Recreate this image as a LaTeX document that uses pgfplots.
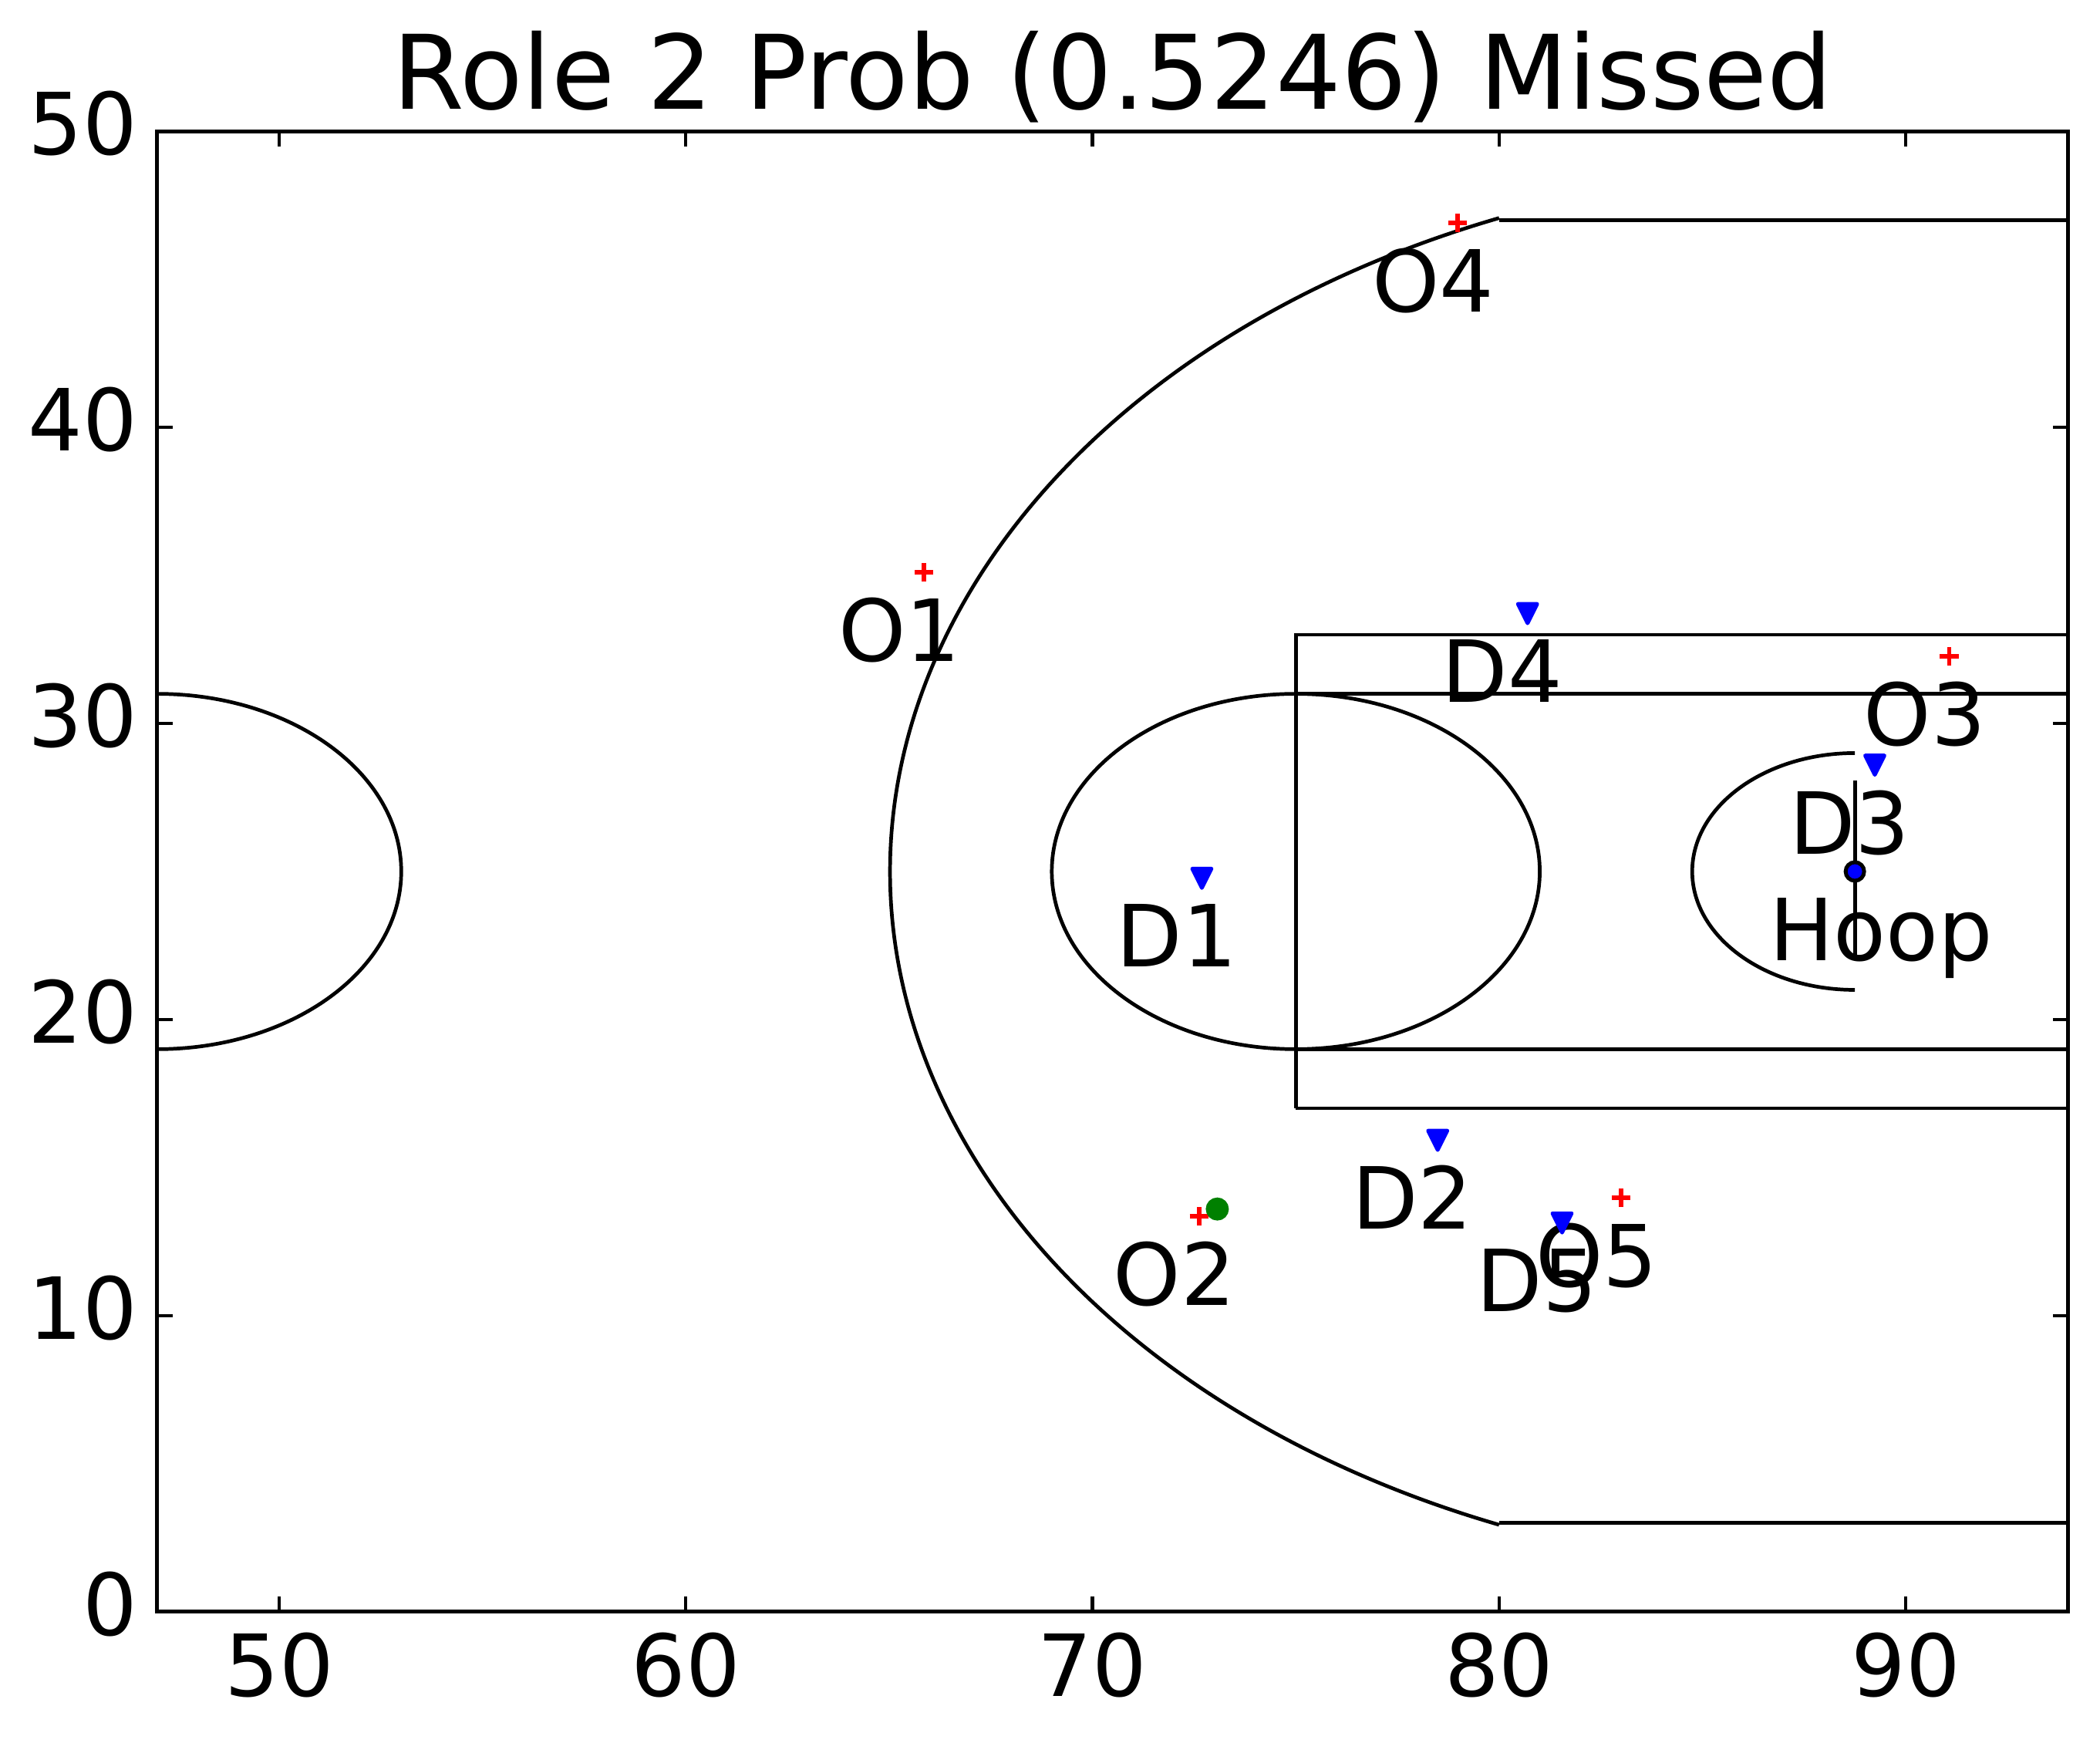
\documentclass[border=0pt]{standalone}
\usepackage{fontspec}
\setmainfont{DejaVu Sans}
\usepackage{pgfplots}
\pgfplotsset{compat=1.18}
\pgfdeclareplotmark{tridown}{%
  \pgfpathmoveto{\pgfqpoint{-\pgfplotmarksize}{\pgfplotmarksize}}%
  \pgfpathlineto{\pgfqpoint{\pgfplotmarksize}{\pgfplotmarksize}}%
  \pgfpathlineto{\pgfqpoint{0pt}{-\pgfplotmarksize}}%
  \pgfpathclose
  \pgfusepathqfillstroke}
\definecolor{mplgreen}{rgb}{0,0.5,0}

\pgfplotstableread{
x y
65.86 35.10
72.62 13.35
91.07 32.26
78.98 46.91
83.00 13.98
}\offense
\pgfplotstableread{
x y
72.69 24.77
78.49 15.92
89.24 28.59
80.70 33.71
81.55 13.13
}\defense

\begin{document}
\begin{tikzpicture}
\path[use as bounding box] (-29.35pt,-24.4pt) rectangle (362.6pt,300.8pt);
\begin{axis}[
  at={(0,0)}, anchor=south west,
  width=356.7pt, height=276.3pt, scale only axis,
  xmin=47, xmax=94, ymin=0, ymax=50,
  xtick={50,60,70,80,90}, ytick={0,10,20,30,40,50},
  tick align=inside, major tick length=2.9pt,
  tick style={black, line width=0.6pt},
  axis line style={line width=0.72pt},
  ticklabel style={font=\fontsize{16}{19}\selectfont},
  /pgf/number format/assume math mode=true,
  xticklabel style={inner sep=0pt, yshift=-3.7pt},
  yticklabel style={inner sep=0pt, xshift=-3.5pt, yshift=1.4pt},
  title={Role 2 Prob (0.5246) Missed},
  title style={font=\fontsize{19.2}{23}\selectfont, at={(0.5,1)}, anchor=base, yshift=-1.9pt, inner sep=0pt},
  clip=true,
]
% hoop
\addplot[only marks, mark=*, mark size=1.73pt, mark options={fill=blue, draw=black, line width=0.72pt}] coordinates {(88.75,25)};
% court
\begin{scope}[line width=0.68pt, black]
\draw (47,25) ellipse[x radius=45.54pt, y radius=33.16pt];
\draw (75,25) ellipse[x radius=45.54pt, y radius=33.16pt];
\draw (88.75,29) arc[start angle=90, end angle=270, x radius=30.36pt, y radius=22.10pt];
\draw (80,47.07) arc[start angle=111.69, end angle=248.31, x radius=180.25pt, y radius=131.24pt];
\end{scope}
\addplot[black, line width=0.68pt, mark=none] coordinates {(80,47) (94,47)};
\addplot[black, line width=0.68pt, mark=none] coordinates {(80,3) (94,3)};
\addplot[black, line width=0.68pt, mark=none] coordinates {(75,17) (94,17) (94,33) (75,33) (75,17)};
\addplot[black, line width=0.68pt, mark=none] coordinates {(75,19) (94,19)};
\addplot[black, line width=0.68pt, mark=none] coordinates {(75,31) (94,31)};
\addplot[black, line width=0.68pt, mark=none] coordinates {(88.75,22) (88.75,28.07)};
% players
\addplot[only marks, mark=+, mark size=1.73pt, red, line width=0.82pt] table {\offense};
\addplot[only marks, mark=tridown, mark size=1.8pt, blue, line width=0.7pt, mark options={line join=round, fill=blue}] table {\defense};
\addplot[only marks, mark=*, mark size=1.8pt, mark options={fill=mplgreen, draw=mplgreen, line width=0.7pt}] coordinates {(73.07,13.60)};
% labels
\begin{scope}[every node/.style={anchor=base west, inner sep=0pt, font=\fontsize{16}{19}\selectfont}]
\node at (63.73,32.10) {O1};
\node at (70.49,10.35) {O2};
\node at (88.94,29.26) {O3};
\node at (76.85,43.91) {O4};
\node at (80.87,10.98) {O5};
\node at (70.56,21.77) {D1};
\node at (76.36,12.92) {D2};
\node at (87.11,25.59) {D3};
\node at (78.57,30.71) {D4};
\node at (79.42,10.13) {D5};
\node at (86.62,22.00) {Hoop};
\end{scope}
\end{axis}
\end{tikzpicture}
\end{document}
